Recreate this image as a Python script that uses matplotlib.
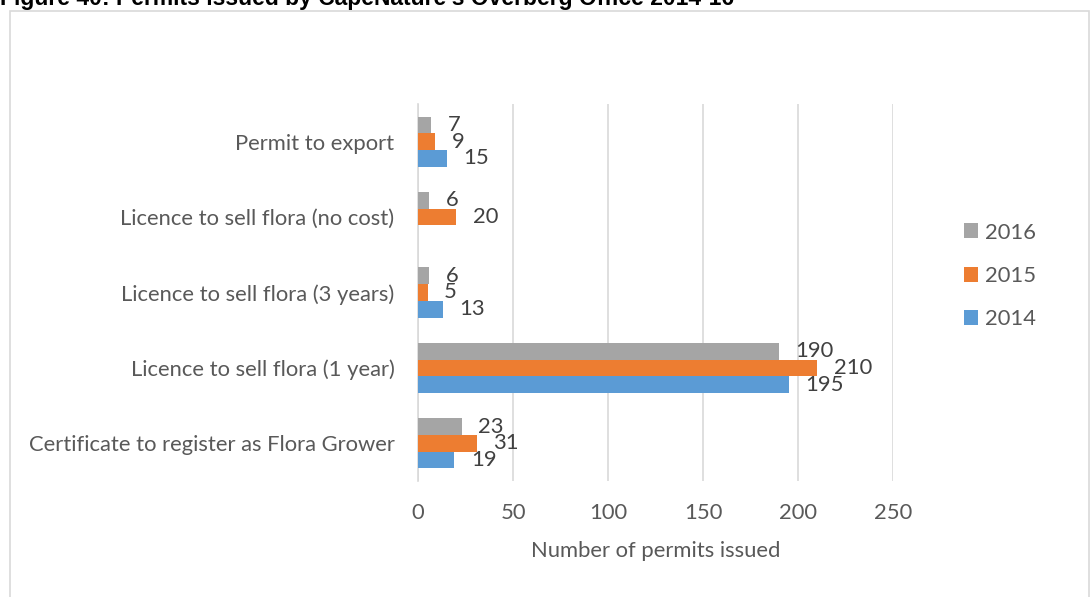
import numpy as np
import matplotlib
matplotlib.use("Agg")
import matplotlib.pyplot as plt
from matplotlib.patches import Rectangle

# categories listed bottom -> top, as drawn on the y axis
categories = [
    "Certificate to register as Flora Grower",
    "Licence to sell flora (1 year)",
    "Licence to sell flora (3 years)",
    "Licence to sell flora (no cost)",
    "Permit to export",
]
years = ["2014", "2015", "2016"]
permits_2014 = [19, 195, 13, 0, 15]   # no 2014 figure for the no-cost licence
permits_2015 = [31, 210, 5, 20, 9]
permits_2016 = [23, 190, 6, 6, 7]
colors = ["#5B9BD5", "#ED7D31", "#A5A5A5"]

W, H = 1090, 597
fig = plt.figure(figsize=(W / 100, H / 100), dpi=100)

# outer chart frame (top-left corner visible, rest runs off the image)
fig.patches.append(Rectangle((10 / W, -0.1), (W - 11) / W, 1 - 11 / H + 0.1,
                             transform=fig.transFigure, fill=False,
                             edgecolor="#d9d9d9", lw=1.2))

fig.text(0, 1 - 5 / H, "Figure 40: Permits issued by CapeNature\u2019s Overberg Office 2014-16",
         family="Liberation Sans", weight="bold", fontsize=16.5, ha="left", va="baseline")

ax = fig.add_axes([418 / W, 1 - 481 / H, (893 - 418) / W, (481 - 104) / H])

txt_color = "#595959"
font = "Lato"
fs = 15.8

y = np.arange(len(categories))
bh = 1 / 4.5
series = [permits_2014, permits_2015, permits_2016]
conts = []
for i, (vals, col, yr) in enumerate(zip(series, colors, years)):
    c = ax.barh(y + (i - 1) * bh, vals, height=bh, color=col, label=yr, zorder=3)
    labels = [f"{v:g}" if v else "" for v in vals]
    ax.bar_label(c, labels=labels, padding=12, color="#404040",
                 family=font, fontsize=fs)
    conts.append(c)

ax.set_xlim(0, 250)
ax.set_ylim(-0.5, len(categories) - 0.5)
ax.set_xticks(range(0, 251, 50))
ax.set_yticks(y)
ax.set_yticklabels(categories)
ax.grid(axis="x", color="#d9d9d9", lw=1.2, zorder=0)
ax.tick_params(length=0, labelcolor=txt_color, labelsize=fs)
ax.tick_params(axis="y", pad=17)
ax.tick_params(axis="x", pad=16)
for lbl in ax.get_xticklabels() + ax.get_yticklabels():
    lbl.set_family(font)
for s in ["top", "right", "bottom"]:
    ax.spines[s].set_visible(False)
ax.spines["left"].set_color("#d9d9d9")
ax.spines["left"].set_linewidth(1.2)
ax.set_xlabel("Number of permits issued", family=font, fontsize=fs,
              color=txt_color, labelpad=13)

handles = [conts[2], conts[1], conts[0]]
fig.legend(handles, ["2016", "2015", "2014"], loc="center left",
           bbox_to_anchor=(944 / W, 1 - 276 / H), frameon=False,
           prop={"family": font, "size": fs}, labelcolor=txt_color,
           handlelength=0.65, handleheight=0.65, handletextpad=0.3,
           labelspacing=1.07)

fig.savefig("out.png", dpi=100)
